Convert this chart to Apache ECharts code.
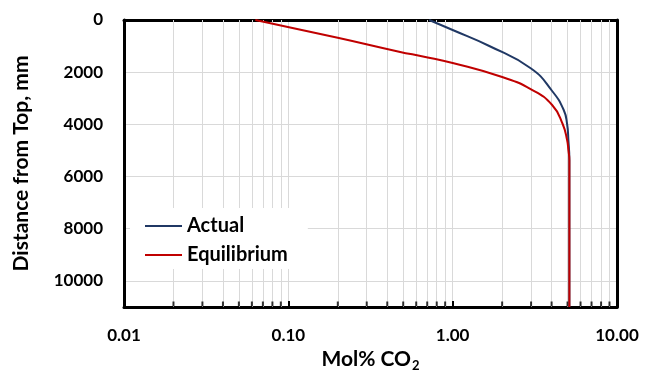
<!DOCTYPE html>
<html>
<head>
<meta charset="utf-8">
<script src="https://cdn.jsdelivr.net/npm/echarts@6/dist/echarts.min.js"></script>
<style>
  html, body { margin: 0; padding: 0; background: #fff; }
  #chart { width: 646px; height: 374px; }
</style>
</head>
<body>
<div id="chart"></div>
<script>
// depth (mm) and mol% CO2
const ACTUAL_DEPTH = [0, 383, 996, 1859, 2721, 3450, 3986, 4599, 5366, 7000, 9000, 11000]
const ACTUAL_CO2   = [0.72, 1.0, 1.67, 3.0, 4.03, 4.74, 4.97, 5.06, 5.13, 5.13, 5.13, 5.13]

const EQUIL_DEPTH = [0, 690, 1215, 1406, 1648, 2185, 2657, 3258, 3986, 4599, 4983, 5366, 7000, 9000, 11000]
const EQUIL_CO2   = [0.063, 0.203, 0.472, 0.67, 1.0, 2.0, 3.0, 4.03, 4.67, 4.97, 5.06, 5.13, 5.13, 5.13, 5.13]

const X_MINOR = [0.02, 0.03, 0.04, 0.05, 0.06, 0.07, 0.08, 0.09,
                 0.2, 0.3, 0.4, 0.5, 0.6, 0.7, 0.8, 0.9,
                 2, 3, 4, 5, 6, 7, 8, 9]
const Y_MAX = 11000

const FONT = 'Lato, "Open Sans", sans-serif'
const GRID = '#d9d9d9'

const chart = echarts.init(document.getElementById('chart'), null, { renderer: 'canvas' })

const pairs = (xs, ys) => ys.map((y, i) => [xs[i], y])

chart.setOption({
  animation: false,
  backgroundColor: '#fff',
  grid: { left: 124, right: 29, top: 20, bottom: 67, outerBoundsMode: 'none' },
  legend: {
    data: ['Actual', 'Equilibrium'],
    orient: 'vertical',
    left: 130, top: 208,
    padding: [8, 20, 4, 15],
    backgroundColor: '#fff',
    icon: 'rect',
    itemWidth: 37, itemHeight: 2, itemGap: 9,
    textStyle: { fontFamily: FONT, fontWeight: 'bold', fontSize: 20, color: '#000' },
  },
  xAxis: [
    {
      type: 'log', logBase: 10, min: 0.01, max: 10,
      name: '{a|Mol% CO}{s|2}', nameLocation: 'middle', nameGap: 40,
      nameTextStyle: {
        rich: {
          a: { fontFamily: FONT, fontWeight: 'bold', fontSize: 21, color: '#000' },
          s: { fontFamily: FONT, fontWeight: 'bold', fontSize: 13, color: '#000', padding: [12, 0, 0, 1] },
        },
      },
      axisLine: { onZero: false, lineStyle: { color: '#000', width: 3 } },
      axisTick: { show: true, inside: true, length: 6, lineStyle: { color: '#000', width: 2 } },
      axisLabel: {
        fontFamily: FONT, fontWeight: 'bold', fontSize: 17, color: '#000', margin: 20,
        formatter: v => Number(v).toFixed(2),
      },
      splitLine: { show: true, lineStyle: { color: GRID, width: 1 } },
    },
    {
      type: 'log', logBase: 10, min: 0.01, max: 10, position: 'top',
      axisLine: { onZero: false, lineStyle: { color: '#000', width: 3 } },
      axisTick: { show: false }, axisLabel: { show: false }, splitLine: { show: false },
    },
  ],
  yAxis: [
    {
      type: 'value', inverse: true, min: 0, max: Y_MAX, interval: 2000,
      name: 'Distance from Top, mm', nameLocation: 'middle', nameGap: 92,
      nameTextStyle: { fontFamily: FONT, fontWeight: 'bold', fontSize: 21, color: '#000' },
      axisLine: { show: true, onZero: false, lineStyle: { color: '#000', width: 3 } },
      axisTick: { show: false },
      axisLabel: {
        fontFamily: FONT, fontWeight: 'bold', fontSize: 17, color: '#000', margin: 21, showMaxLabel: false,
        formatter: v => String(v),
      },
      splitLine: { show: true, lineStyle: { color: GRID, width: 1 } },
    },
    {
      type: 'value', inverse: true, min: 0, max: Y_MAX, position: 'right',
      axisLine: { show: true, onZero: false, lineStyle: { color: '#000', width: 3 } },
      axisTick: { show: false }, axisLabel: { show: false }, splitLine: { show: false },
    },
  ],
  series: [
    {
      // minor log gridlines and ticks at 2..9 of each decade
      name: 'minor', type: 'scatter', silent: true, clip: false, z: 1,
      data: X_MINOR.map(v => [v, Y_MAX]),
      symbol: 'rect', symbolSize: [2, 5], symbolOffset: [0, -3],
      itemStyle: { color: '#000' },
      markLine: {
        silent: true, symbol: 'none', z: 1,
        label: { show: false },
        lineStyle: { color: GRID, width: 1, type: 'solid' },
        data: X_MINOR.map(v => ({ xAxis: v })),
      },
    },
    {
      name: 'Actual', type: 'line', z: 3,
      data: pairs(ACTUAL_CO2, ACTUAL_DEPTH),
      showSymbol: false, symbol: 'none', smooth: 0.5,
      lineStyle: { color: '#203864', width: 2 },
      itemStyle: { color: '#203864' },
    },
    {
      name: 'Equilibrium', type: 'line', z: 3,
      data: pairs(EQUIL_CO2, EQUIL_DEPTH),
      showSymbol: false, symbol: 'none', smooth: 0.5,
      lineStyle: { color: '#c00000', width: 2 },
      itemStyle: { color: '#c00000' },
    },
  ],
})
</script>
</body>
</html>
